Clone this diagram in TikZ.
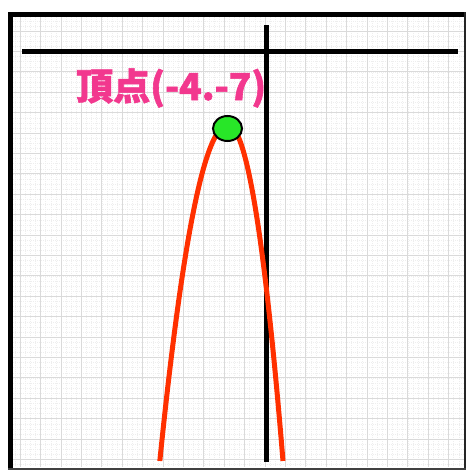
\documentclass[tikz,border=0pt]{standalone}
\usepackage{fontspec}
\newfontfamily\cjk[BoldFeatures={FakeBold=1.6}]{Noto Sans CJK JP}
\definecolor{lblpink}{RGB}{242,56,142}
\definecolor{curvered}{RGB}{255,48,0}
\definecolor{vgreen}{RGB}{40,230,40}
\definecolor{majorgrid}{RGB}{218,218,218}
\definecolor{minorgrid}{RGB}{238,238,238}
\tikzset{
  minorline/.style={draw=minorgrid, line width=0.5pt, dash pattern=on 1pt off 1pt},
  majorline/.style={draw=majorgrid, line width=1pt},
  axisline/.style={draw=black, line width=4.5pt},
  parab/.style={draw=curvered, line width=5pt, line join=round},
  vertexdot/.style={ellipse, draw=black, fill=vgreen, line width=2pt, minimum width=29pt, minimum height=25pt, inner sep=0pt},
  lbl/.style={text=lblpink, inner sep=0pt, font=\cjk\bfseries\fontsize{37}{37}\selectfont}
}
\usetikzlibrary{shapes.geometric}
\begin{document}
\begin{tikzpicture}[x=1pt,y=-1pt]
\useasboundingbox (0,0) rectangle (467,471);
\fill[white] (0,0) rectangle (467,471);
% grid
\begin{scope}
\clip (13,17) rectangle (464,467);
\foreach \i in {-52,...,40} {
  \draw[minorline] ({265+5.1*\i},17) -- ({265+5.1*\i},467);
}
\foreach \i in {-8,...,84} {
  \draw[minorline] (13,{51.5+5.1*\i}) -- (464,{51.5+5.1*\i});
}
\foreach \i in {-13,...,10} {
  \draw[majorline] ({265+20.4*\i},17) -- ({265+20.4*\i},467);
}
\foreach \i in {-2,...,21} {
  \draw[majorline] (13,{51.5+20.4*\i}) -- (464,{51.5+20.4*\i});
}
\end{scope}
% frame
\draw[black, line width=5pt] (10.5,12) -- (10.5,470);
\draw[black, line width=5pt] (8,14.5) -- (466,14.5);
\draw[black!85, line width=2.5pt] (465.2,12) -- (465.2,470);
\draw[black!75, line width=2.5pt] (8,468.8) -- (466,468.8);
% axes
\coordinate (xl) at (22,51.5);
\coordinate (xr) at (458,51.5);
\coordinate (yt) at (266,25);
\coordinate (yb) at (266,462);
\draw[axisline] (xl) -- (xr);
\draw[axisline, line width=5pt] (yt) -- (yb);
% parabola
\draw[parab] plot[domain=18.33:0, samples=60] ({228-3.72*\x},{125+\x*\x})
  -- plot[domain=0:18.33, samples=60] ({228+3.0*\x},{125+\x*\x});
% vertex
\node[vertexdot] (vertex) at (227.5,128.5) {};
% label
\node[lbl, anchor=base west] (label) at (76,100) {頂点(-4.-7)};
\end{tikzpicture}
\end{document}
